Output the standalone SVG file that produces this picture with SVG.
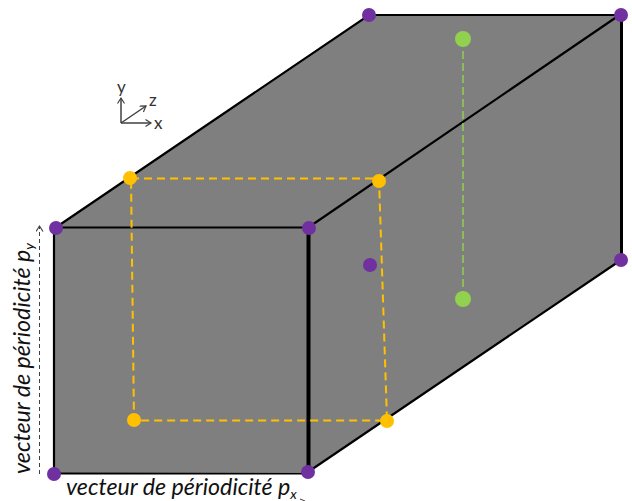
<svg xmlns="http://www.w3.org/2000/svg" width="632" height="501" viewBox="0 0 632 501">
<style>
.e{fill:none;stroke:#000;stroke-width:2.2}
.o{fill:none;stroke:#ffc000;stroke-width:2;stroke-dasharray:8 5}
.p{fill:#7030a0}.y{fill:#ffc000}.g{fill:#92d050}
.a{fill:none;stroke:#404040;stroke-width:1.5}
.t{font-family:Lato,"Open Sans",sans-serif;fill:#111}
.l{font-size:23.200px;font-style:italic}
.s{font-size:17px;fill:#333}
</style>
<defs><marker id="h" markerWidth="8" markerHeight="8" refX="6" refY="4" orient="auto" markerUnits="userSpaceOnUse"><path d="M0.5 0.5L6 4L0.5 7.5" fill="none" stroke="#404040" stroke-width="1.2"/></marker></defs>
<g id="box">
<polygon points="55,228 369,15 621,14 621,260 308,472 54,473" fill="#7f7f7f"/>
</g>
<g id="connectors">
<path class="e" d="M55 228L369 15H621"/>
<path class="e" d="M621 14L309 227"/>
<path class="e" d="M55 227.500H309"/>
<path class="e" d="M54 228V473.500H308"/>
<path class="e" d="M308 472L621 260"/>
<path d="M621.500 15V260" fill="none" stroke="#000" stroke-width="3"/>
<path d="M308.500 228V472" fill="none" stroke="#000" stroke-width="4"/>
<path class="o" d="M131 178.500H379L387 420.500H134L131 178"/>
<path d="M463 39V299" fill="none" stroke="#92d050" stroke-width="1.5" stroke-dasharray="8 4"/>
<path d="M39.500 474V226" fill="none" stroke="#404040" stroke-width="1" stroke-dasharray="4 3" marker-end="url(#h)"/>
<path d="M300 499L305 501" fill="none" stroke="#404040" stroke-width="1"/>
<path class="a" d="M121 123V98" marker-end="url(#h)"/>
<path class="a" d="M121 123H151" marker-end="url(#h)"/>
<path class="a" d="M121 123L146 106" marker-end="url(#h)"/>
</g>
<g id="axes-labels">
<text class="t s" x="117" y="93">y</text>
<text class="t s" x="149" y="106">z</text>
<text class="t s" x="154" y="129">x</text>
</g>
<g id="purple-nodes">
<circle class="p" cx="369" cy="15" r="7"/>
<circle class="p" cx="621" cy="15" r="7"/>
<circle class="p" cx="621" cy="260" r="7"/>
<circle class="p" cx="56" cy="228" r="7"/>
<circle class="p" cx="309" cy="228" r="7"/>
<circle class="p" cx="370" cy="265" r="7"/>
<circle class="p" cx="54" cy="474" r="7"/>
<circle class="p" cx="308" cy="472" r="7"/>
</g>
<g id="yellow-nodes">
<circle class="y" cx="130" cy="178" r="7"/>
<circle class="y" cx="379" cy="181" r="7"/>
<circle class="y" cx="134" cy="420" r="7"/>
<circle class="y" cx="387" cy="421" r="7"/>
</g>
<g id="green-nodes">
<circle class="g" cx="463" cy="39" r="8"/>
<circle class="g" cx="463" cy="299" r="8"/>
</g>
<g id="labels">
<text class="t l" transform="translate(30 474) rotate(-90)">vecteur de périodicité p<tspan font-size="14" dy="4">y</tspan></text>
<text class="t l" x="66" y="495">vecteur de périodicité p<tspan font-size="14" dy="4">x</tspan></text>
</g>
</svg>
